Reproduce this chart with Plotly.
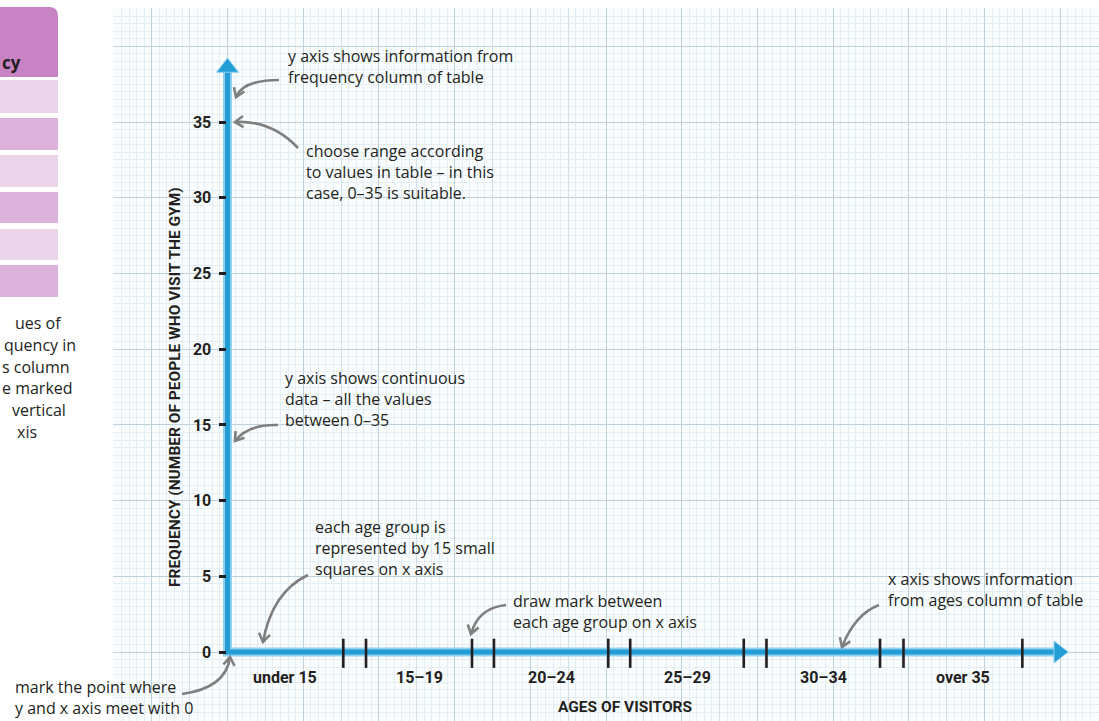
import math
import plotly.graph_objects as go

# ---------------- data ----------------
freq_ticks = [0, 5, 10, 15, 20, 25, 30, 35]
freq_labels = [str(v) for v in freq_ticks]
age_groups = ["under 15", "15–19", "20–24", "25–29", "30–34", "over 35"]
# extent of each age group along the x axis, in small squares of the grid paper
group_start = [0, 18.3, 35.2, 53.2, 71.2, 89.3]
group_end = [15.3, 32.3, 50.3, 68.2, 86.2, 105.0]
x_axis_tip = 111.0   # arrow tip of x axis (small squares)
y_axis_tip = 39.2    # arrow tip of y axis (frequency)

# ---------------- geometry ----------------
W, H = 1099, 721
ML, MT = 113, 8            # graph paper starts here
PW, PH = W - ML, H - MT
X0_PX, Y0_PX = 227.5, 652  # pixel position of the origin
SQ = 7.57                  # px per small square
FU = 15.14                 # px per frequency unit

x_range = [(ML - X0_PX) / SQ, (W - X0_PX) / SQ]
y_range = [(Y0_PX - H) / FU, (Y0_PX - MT) / FU]


def px(x):
    return (x - ML) / PW


def py(y):
    return (H - y) / PH


INK = "#231f20"
GREY = "#7f7f7f"
AXIS_BLUE = "#239dd5"
AXIS_GLOW = "#8fd0ee"
GRID_SMALL = "#e4eef3"
GRID_MED = "#d2e1e9"
GRID_MAJOR = "#bfd2dc"
TEXT_FONT = "Open Sans, Noto Sans, sans-serif"
COND_FONT = "Roboto, Liberation Sans, sans-serif"

fig = go.Figure()

# blue axes (one polyline through the origin)
y_head_c = y_axis_tip - 9 / FU
x_head_c = x_axis_tip - 9 / SQ
for color, width in [(AXIS_GLOW, 9), (AXIS_BLUE, 5)]:
    fig.add_trace(go.Scatter(
        x=[x_head_c, 0, 0], y=[0, 0, y_head_c], mode="lines",
        line=dict(color=color, width=width),
        hoverinfo="skip", showlegend=False))

# arrow heads
fig.add_trace(go.Scatter(
    x=[0, x_head_c], y=[y_head_c, 0], mode="markers",
    marker=dict(symbol=["triangle-up", "triangle-right"], size=19,
                color=AXIS_BLUE, line=dict(color=AXIS_GLOW, width=1)),
    yaxis="y3", hoverinfo="skip", showlegend=False))

# marks between age groups
marks = sorted(group_end + group_start[1:])
mx, my = [], []
for m in marks:
    mx += [m, m, None]
    my += [-1.05, 0.88, None]
fig.add_trace(go.Scatter(
    x=mx, y=my, mode="lines", line=dict(color=INK, width=2.6),
    xaxis="x2", hoverinfo="skip", showlegend=False))

annotations = []

# age-group labels centred on each group
for name, s, e in zip(age_groups, group_start, group_end):
    annotations.append(dict(
        x=(s + e) / 2, xref="x", y=py(677), yref="paper",
        text=f"<b>{name}</b>", showarrow=False,
        font=dict(family=COND_FONT, size=16, color=INK),
        xanchor="center", yanchor="middle"))

# axis titles
annotations.append(dict(
    x=(group_start[0] + group_end[-1]) / 2, xref="x", y=py(707), yref="paper",
    text="<b>AGES OF VISITORS</b>", showarrow=False,
    font=dict(family=COND_FONT, size=15.5, color=INK),
    xanchor="center", yanchor="middle"))
annotations.append(dict(
    x=px(175), xref="paper", y=(freq_ticks[0] + freq_ticks[-1]) / 2, yref="y",
    text="<b>FREQUENCY (NUMBER OF PEOPLE WHO VISIT THE GYM)</b>", showarrow=False,
    textangle=-90, font=dict(family=COND_FONT, size=15.5, color=INK),
    xanchor="center", yanchor="middle"))

# explanatory notes: (left px, centre px, text)
notes = [
    (286, 67, "y axis shows information from<br>frequency column of table"),
    (304, 172, "choose range according<br>to values in table – in this<br>case, 0–35 is suitable."),
    (283, 399, "y axis shows continuous<br>data – all the values<br>between 0–35"),
    (313, 548, "each age group is<br>represented by 15 small<br>squares on x axis"),
    (511, 611, "draw mark between<br>each age group on x axis"),
    (886, 589, "x axis shows information<br>from ages column of table"),
    (13, 697, "mark the point where<br>y and x axis meet with 0"),
]
for lx, cy, txt in notes:
    annotations.append(dict(
        x=px(lx), xref="paper", y=py(cy), yref="paper", text=txt,
        showarrow=False, align="left", xanchor="left", yanchor="middle",
        font=dict(family=TEXT_FONT, size=16, color=INK)))

# side panel: frequency table edge and its caption
annotations.append(dict(
    x=px(0), xref="paper", y=py(62), yref="paper", text="<b>cy</b>",
    showarrow=False, xanchor="left", yanchor="middle",
    font=dict(family=TEXT_FONT, size=17, color=INK)))
side_lines = [(13, "ues of"), (2, "quency in"), (0, "s column"),
              (0, "e marked"), (10, "vertical"), (15, "xis")]
for i, (lx, txt) in enumerate(side_lines):
    annotations.append(dict(
        x=px(lx), xref="paper", y=py(323 + 21.8 * i), yref="paper", text=txt,
        showarrow=False, xanchor="left", yanchor="middle",
        font=dict(family=TEXT_FONT, size=16, color=INK)))

shapes = []

# table header with rounded corner, then alternating rows
r = 9
hx0, hx1, hy0, hy1 = -5, 58, 7, 77
shapes.append(dict(
    type="path", xref="paper", yref="paper",
    path=(f"M{px(hx0)},{py(hy1)} L{px(hx0)},{py(hy0)} L{px(hx1 - r)},{py(hy0)} "
          f"Q{px(hx1)},{py(hy0)} {px(hx1)},{py(hy0 + r)} L{px(hx1)},{py(hy1)} Z"),
    fillcolor="#c883c5", line=dict(width=0), layer="above"))
rows = [(80, 113), (118, 150), (155, 187), (192, 223), (229, 260), (265, 297)]
for i, (t, b) in enumerate(rows):
    shapes.append(dict(
        type="rect", xref="paper", yref="paper",
        x0=px(hx0), x1=px(hx1), y0=py(b), y1=py(t),
        fillcolor="#ead4ea" if i % 2 == 0 else "#dcb1dc",
        line=dict(width=0), layer="above"))


def curved_arrow(p0, c, p1, head=10, ang=34):
    """Quadratic curve from p0 to p1 (pixels) with an open arrow head at p1."""
    curve = (f"M{px(p0[0])},{py(p0[1])} Q{px(c[0])},{py(c[1])} "
             f"{px(p1[0])},{py(p1[1])}")
    dx, dy = p1[0] - c[0], p1[1] - c[1]
    length = math.hypot(dx, dy)
    ux, uy = dx / length, dy / length
    wings = []
    for sgn in (1, -1):
        a = math.radians(ang * sgn)
        bx = -(ux * math.cos(a) - uy * math.sin(a))
        by = -(ux * math.sin(a) + uy * math.cos(a))
        wings.append((p1[0] + head * bx, p1[1] + head * by))
    tip = (f"M{px(wings[0][0])},{py(wings[0][1])} L{px(p1[0])},{py(p1[1])} "
           f"L{px(wings[1][0])},{py(wings[1][1])}")
    return curve, tip


pointers = [
    ((279, 80), (243, 80), (236, 97)),
    ((298, 148), (272, 120), (235, 122)),
    ((278, 425), (248, 424), (235, 441)),
    ((308, 575), (272, 592), (263, 642)),
    ((182, 694), (226, 688), (230, 657)),
    ((506, 605), (478, 608), (471, 634)),
    ((879, 605), (855, 614), (842, 647)),
]
for p0, c, p1 in pointers:
    for path in curved_arrow(p0, c, p1):
        shapes.append(dict(
            type="path", xref="paper", yref="paper", path=path,
            line=dict(color=GREY, width=2.6), fillcolor="rgba(0,0,0,0)",
            layer="above"))

hidden = dict(showticklabels=False, ticks="", zeroline=False, showline=False,
              fixedrange=True)

fig.update_layout(
    width=W, height=H,
    margin=dict(l=ML, r=0, t=MT, b=0, pad=0),
    paper_bgcolor="white", plot_bgcolor="#fafdfe",
    showlegend=False,
    xaxis=dict(range=x_range, tick0=0, dtick=10, showgrid=True,
               gridcolor=GRID_MAJOR, gridwidth=1,
               minor=dict(tick0=0, dtick=1, showgrid=True,
                          gridcolor=GRID_SMALL, gridwidth=1),
               **hidden),
    xaxis2=dict(range=x_range, overlaying="x", anchor="y", tick0=5, dtick=10,
                showgrid=True, gridcolor=GRID_MED, gridwidth=1, **hidden),
    yaxis=dict(range=y_range, tick0=0, dtick=5, showgrid=True,
               gridcolor=GRID_MAJOR, gridwidth=1,
               minor=dict(tick0=0, dtick=0.5, showgrid=True,
                          gridcolor=GRID_SMALL, gridwidth=1),
               **hidden),
    yaxis2=dict(range=y_range, overlaying="y", anchor="x", tick0=2.5, dtick=5,
                showgrid=True, gridcolor=GRID_MED, gridwidth=1, **hidden),
    yaxis3=dict(range=y_range, overlaying="y", anchor="free",
                position=px(225.5), side="left",
                tickmode="array", tickvals=freq_ticks, ticktext=freq_labels,
                ticks="outside", ticklen=7, tickwidth=3, tickcolor=INK,
                ticklabelstandoff=4,
                tickfont=dict(family=COND_FONT, size=16, color=INK, weight="bold"),
                showgrid=False, zeroline=False, showline=False, fixedrange=True),
    annotations=annotations,
    shapes=shapes,
)

fig.write_html("out.html")
